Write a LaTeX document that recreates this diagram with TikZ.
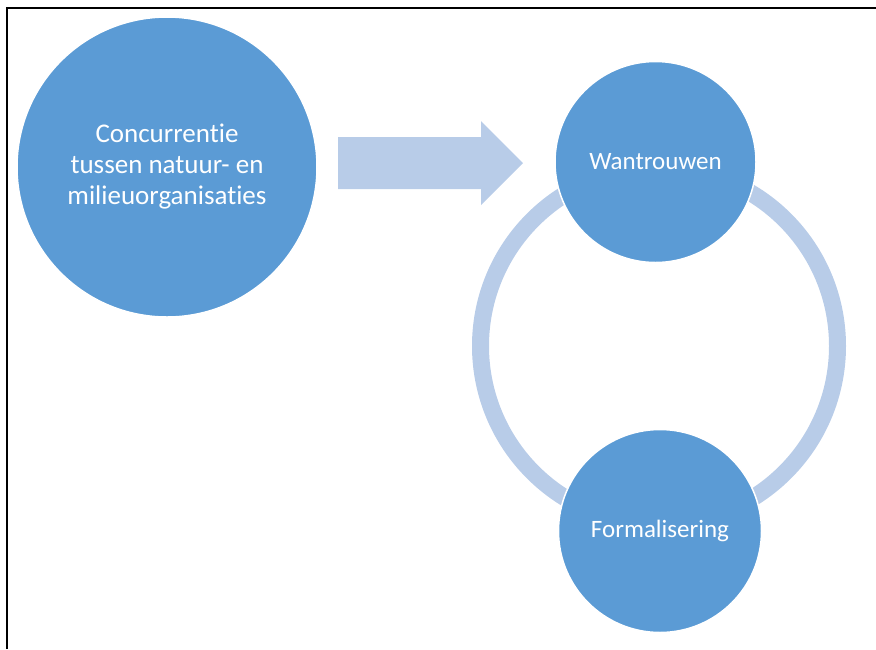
\documentclass[tikz,border=0pt]{standalone}
\usepackage{fontspec}
\setmainfont{Carlito}[Ligatures=NoCommon]
\definecolor{bubbleblue}{RGB}{91,155,213}
\definecolor{paleblue}{RGB}{184,204,232}
\tikzset{
  bubble/.style={circle,fill=bubbleblue,draw=white,line width=1.5pt,text=white,align=center,inner sep=0pt},
  ringline/.style={draw=paleblue,line width=17pt},
  blockarrow/.style={fill=paleblue}
}
\begin{document}
\begin{tikzpicture}[x=1pt,y=-1pt]
\useasboundingbox (0,0) rectangle (876,649);
\draw[line width=2pt] (7,649) -- (7,8) -- (876,8);
\coordinate (ringc) at (659,346);
\draw[ringline] (ringc) circle (178.5);
\node[bubble,minimum size=300pt,font=\fontsize{27}{31}\selectfont] (conc) at (167,167) {\raisebox{-3pt}{\begin{tabular}{@{}c@{}}Concurrentie\\tussen natuur- en\\milieuorganisaties\end{tabular}}};
\node[bubble,minimum size=201pt,font=\fontsize{25}{30}\selectfont] (wantr) at (655.5,162) {Wantrouwen};
\node[bubble,minimum size=203pt,font=\fontsize{25}{30}\selectfont] (forml) at (660,531) {Formalisering};
\coordinate (tail) at (338,163);
\coordinate (tip) at (523,163);
\fill[blockarrow] (tail) ++(0,-26) -- ++(143,0) -- ++(0,-16) -- (tip) -- ++(-42,42) -- ++(0,-16) -- ++(-143,0) -- cycle;
\end{tikzpicture}
\end{document}
